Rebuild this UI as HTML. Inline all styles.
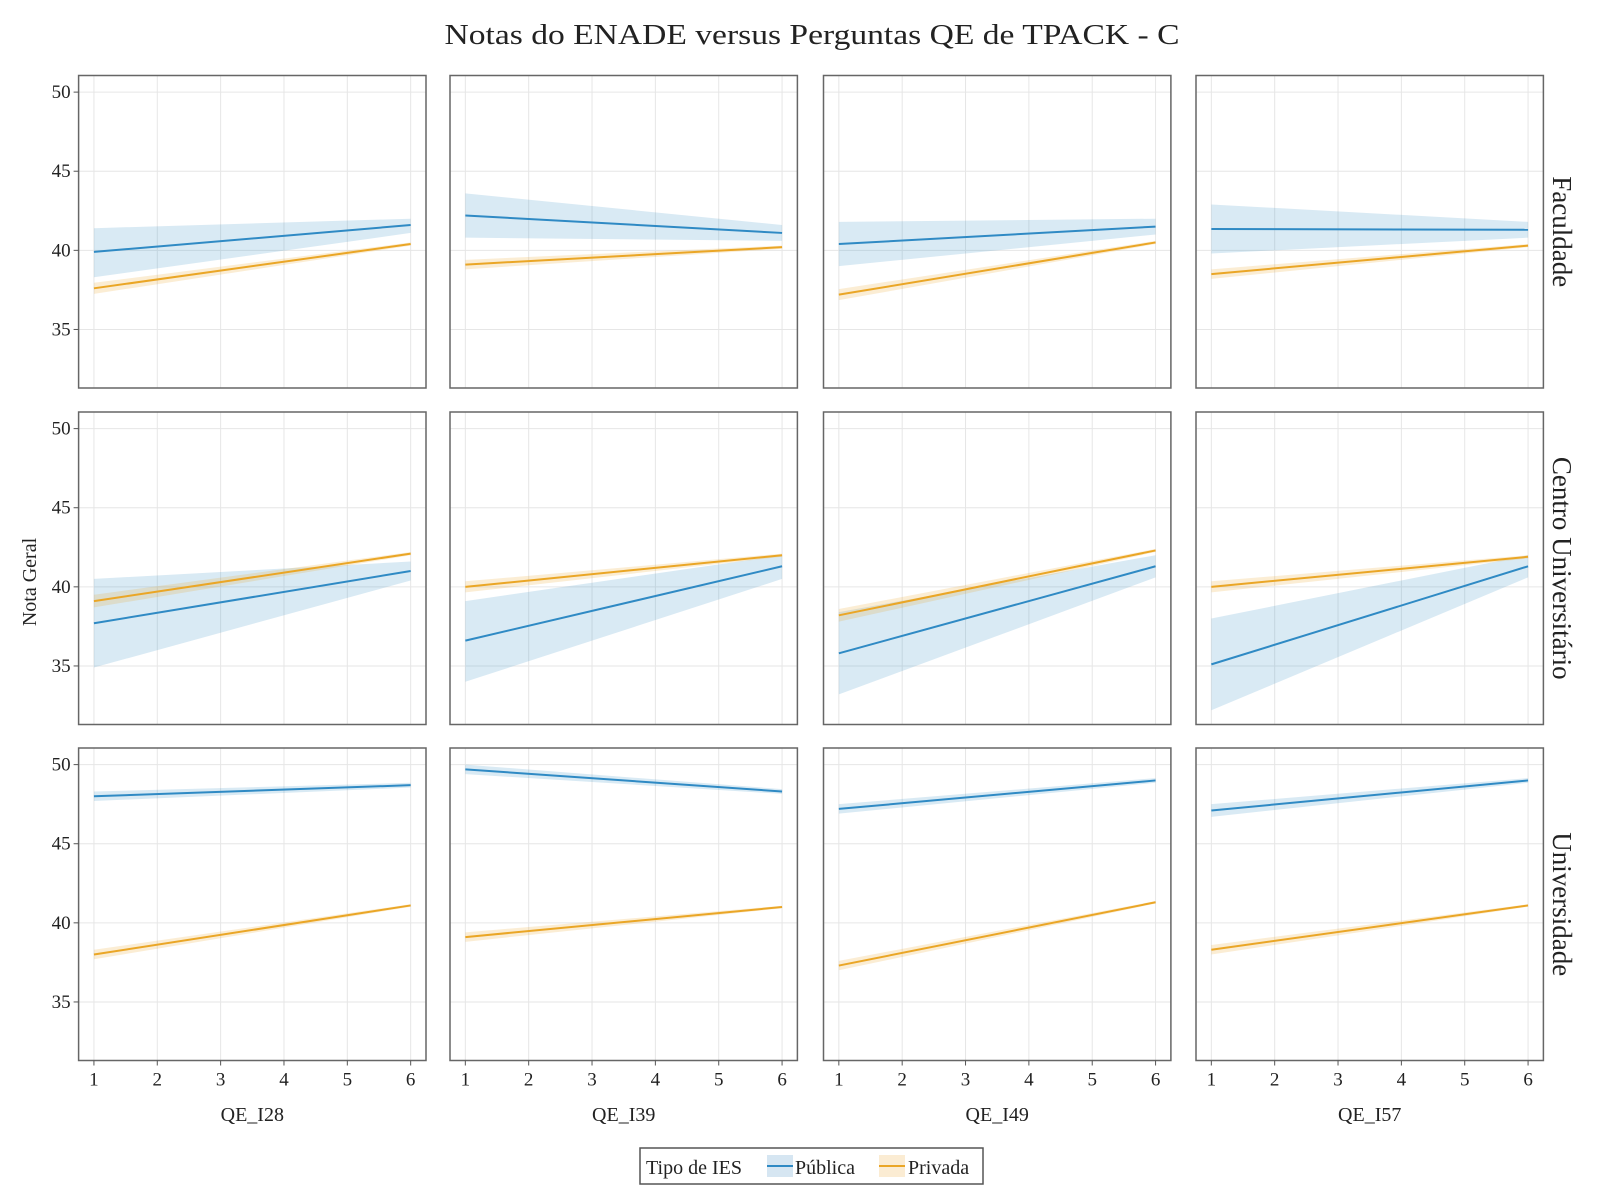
<!DOCTYPE html>
<html><head><meta charset="utf-8"><style>
body{margin:0;background:#fff}
svg{display:block;font-family:"Liberation Serif","DejaVu Serif",serif}
</style></head><body>
<svg id="chart" width="1600" height="1200" viewBox="0 0 1600 1200">
<text x="812" y="44" font-size="29" text-anchor="middle" textLength="735" lengthAdjust="spacingAndGlyphs" fill="#222">Notas do ENADE versus Perguntas QE de TPACK - C</text>
<text transform="translate(36,582) rotate(-90)" font-size="20" text-anchor="middle" fill="#222">Nota Geral</text>
<g id="panels"></g>
<g>
<rect x="640" y="1148" width="343" height="36" fill="#fff" stroke="#555" stroke-width="1.5"/>
<text x="646" y="1174" font-size="20" fill="#222">Tipo de IES</text>
<rect x="767" y="1155" width="26" height="22" fill="#d6e6f2"/>
<line x1="767" y1="1166" x2="793" y2="1166" stroke="#2f8ac4" stroke-width="2"/>
<text x="795" y="1174" font-size="20" fill="#222">Pública</text>
<rect x="879" y="1155" width="26" height="22" fill="#fbecd3"/>
<line x1="879" y1="1166" x2="905" y2="1166" stroke="#eaa626" stroke-width="2"/>
<text x="908" y="1174" font-size="20" fill="#222">Privada</text>
</g>
</svg>
<script>
const questions = ["QE_I28","QE_I39","QE_I49","QE_I57"];
const rowLabels = ["Faculdade","Centro Universitário","Universidade"];
const xTicks = [1,2,3,4,5,6];
const yTicks = [35,40,45,50];
// [row][col] = [value at x=1, value at x=6]
const pubLine = [[[39.9,41.6],[42.2,41.1],[40.4,41.5],[41.35,41.3]],
                 [[37.7,41.0],[36.6,41.3],[35.8,41.3],[35.1,41.3]],
                 [[48.0,48.7],[49.7,48.3],[47.2,49.0],[47.1,49.0]]];
const pubLow  = [[[38.3,41.1],[40.8,40.6],[39.0,41.0],[39.8,40.8]],
                 [[34.9,40.4],[34.0,40.5],[33.2,40.6],[32.2,40.6]],
                 [[47.7,48.55],[49.4,48.15],[46.9,48.85],[46.7,48.85]]];
const pubHigh = [[[41.4,42.0],[43.6,41.6],[41.8,42.0],[42.9,41.8]],
                 [[40.5,41.6],[39.1,42.0],[38.4,42.0],[38.0,42.0]],
                 [[48.3,48.85],[50.0,48.45],[47.5,49.15],[47.5,49.15]]];
const privLine = [[[37.6,40.4],[39.1,40.2],[37.2,40.5],[38.5,40.3]],
                  [[39.1,42.1],[40.0,42.0],[38.2,42.3],[40.0,41.9]],
                  [[38.0,41.1],[39.1,41.0],[37.3,41.3],[38.3,41.1]]];
const privBand = [[[0.35,0.1],[0.3,0.1],[0.35,0.1],[0.3,0.1]],
                  [[0.4,0.1],[0.35,0.1],[0.4,0.1],[0.35,0.1]],
                  [[0.3,0.08],[0.3,0.08],[0.3,0.08],[0.3,0.08]]];

const NS="http://www.w3.org/2000/svg";
const colL=[78.6,450,823.5,1196], pw=347.4;
const rowT=[75.5,412,748], ph=312.5;
const xMin=0.758,xMax=6.242,yMin=31.3,yMax=51.05;
const root=document.getElementById('panels');
function mk(tag,attrs,parent){const e=document.createElementNS(NS,tag);for(const k in attrs)e.setAttribute(k,attrs[k]);(parent||root).appendChild(e);return e;}
for(let r=0;r<3;r++)for(let c=0;c<4;c++){
  const L=colL[c],T=rowT[r];
  const sx=v=>L+(v-xMin)/(xMax-xMin)*pw;
  const sy=v=>T+ph-(v-yMin)/(yMax-yMin)*ph;
  const g=mk('g',{});
  
  
  xTicks.forEach(t=>{const l=mk('line',{x1:sx(t),x2:sx(t),y1:T,y2:T+ph,stroke:'#e6e6e6','stroke-width':1},g);});
  yTicks.forEach(t=>{const l=mk('line',{x1:L,x2:L+pw,y1:sy(t),y2:sy(t),stroke:'#e6e6e6','stroke-width':1},g);});
  const x1=sx(1),x6=sx(6);
  const pb=mk('polygon',{points:`${x1},${sy(pubLow[r][c][0])} ${x6},${sy(pubLow[r][c][1])} ${x6},${sy(pubHigh[r][c][1])} ${x1},${sy(pubHigh[r][c][0])}`,fill:'#2f8ac4','fill-opacity':0.18},g);
  
  const pv=privLine[r][c],pd=privBand[r][c];
  const vb=mk('polygon',{points:`${x1},${sy(pv[0]-pd[0])} ${x6},${sy(pv[1]-pd[1])} ${x6},${sy(pv[1]+pd[1])} ${x1},${sy(pv[0]+pd[0])}`,fill:'#eaa626','fill-opacity':0.2},g);
  
  const pl=mk('line',{x1:x1,y1:sy(pubLine[r][c][0]),x2:x6,y2:sy(pubLine[r][c][1]),stroke:'#2f8ac4','stroke-width':2},g);
  
  const vl=mk('line',{x1:x1,y1:sy(pv[0]),x2:x6,y2:sy(pv[1]),stroke:'#eaa626','stroke-width':2},g);
  
  const fr=mk('rect',{x:L,y:T,width:pw,height:ph,fill:'none',stroke:'#666','stroke-width':1.5},g);
  
  if(c===0){yTicks.forEach(t=>{
    mk('line',{x1:L-5,x2:L,y1:sy(t),y2:sy(t),stroke:'#555'},g);
    const tx=mk('text',{x:L-8,y:sy(t)+6,'font-size':19,'text-anchor':'end',fill:'#222'},g);tx.textContent=t;
    });}
  if(r===2){xTicks.forEach(t=>{
    mk('line',{x1:sx(t),x2:sx(t),y1:T+ph,y2:T+ph+5,stroke:'#555'},g);
    const tx=mk('text',{x:sx(t),y:T+ph+25,'font-size':19,'text-anchor':'middle',fill:'#222'},g);tx.textContent=t;
    });
    const xt=mk('text',{x:L+pw/2,y:1121,'font-size':20,'text-anchor':'middle',fill:'#222'},g);xt.textContent=questions[c];
    }
  if(c===3){const rt=mk('text',{transform:`translate(1553,${T+ph/2}) rotate(90)`,'font-size':27,'text-anchor':'middle',fill:'#222'},g);rt.textContent=rowLabels[r];
    }
}
</script>
</body></html>
